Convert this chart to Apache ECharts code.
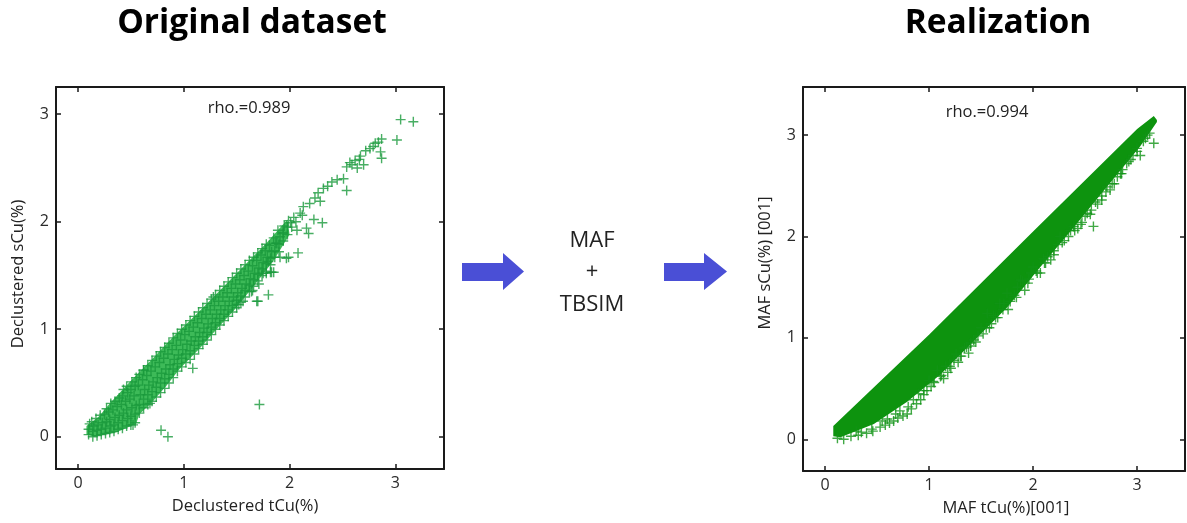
<!DOCTYPE html>
<html>
<head>
<meta charset="utf-8">
<script src="https://cdn.jsdelivr.net/npm/echarts@6/dist/echarts.min.js"></script>
<style>
html,body{margin:0;padding:0;background:#fff;}
#chart{width:1187px;height:523px;}
</style>
</head>
<body>
<div id="chart"></div>
<script>
// ---------- data ----------
const tickValues = [0, 1, 2, 3];
const tickLabels = ['0', '1', '2', '3'];

const leftTitle = 'Original dataset';
const rightTitle = 'Realization';
const leftRho = 'rho.=0.989';
const rightRho = 'rho.=0.994';
const leftXName = 'Declustered tCu(%)';
const leftYName = 'Declustered sCu(%)';
const rightXName = 'MAF tCu(%)[001]';
const rightYName = 'MAF sCu(%) [001]';
const middleLines = ['MAF', '+', 'TBSIM'];

// Original dataset: outline of the dense cloud (tCu, sCu)
const leftBandOutline = [
  [0.08,0.10],[0.20,0.19],[0.30,0.31],[0.50,0.52],[0.70,0.72],[0.90,0.93],[1.15,1.17],
  [1.47,1.49],[1.78,1.80],[1.98,2.02],
  [2.00,1.88],[1.85,1.64],[1.66,1.40],[1.47,1.17],[1.31,1.00],[1.15,0.82],[0.96,0.63],
  [0.84,0.48],[0.70,0.32],[0.58,0.21],[0.55,0.12],[0.36,0.04],[0.15,0.00],[0.08,0.02]
];

// Original dataset: declustered samples (tCu, sCu)
const leftSamples = [
  [0.10,0.02],[0.10,0.07],[0.11,0.12],
  [0.14,0.00],[0.14,0.05],[0.15,0.10],[0.13,0.14],
  [0.18,0.01],[0.18,0.06],[0.19,0.11],[0.17,0.17],
  [0.22,0.02],[0.22,0.07],[0.23,0.13],[0.21,0.20],
  [0.26,0.03],[0.26,0.08],[0.27,0.14],[0.25,0.21],[0.27,0.26],
  [0.30,0.04],[0.31,0.10],[0.30,0.16],[0.29,0.23],[0.31,0.31],
  [0.34,0.05],[0.34,0.11],[0.35,0.18],[0.33,0.25],[0.35,0.33],
  [0.38,0.07],[0.38,0.13],[0.39,0.20],[0.37,0.28],[0.39,0.36],
  [0.42,0.08],[0.42,0.15],[0.43,0.22],[0.41,0.30],[0.42,0.38],[0.43,0.44],
  [0.46,0.10],[0.47,0.17],[0.46,0.25],[0.45,0.33],[0.47,0.41],[0.46,0.47],
  [0.50,0.11],[0.50,0.19],[0.51,0.27],[0.49,0.35],[0.50,0.44],[0.51,0.51],
  [0.54,0.13],[0.54,0.21],[0.55,0.29],[0.53,0.38],[0.54,0.47],[0.55,0.55],
  [0.58,0.22],[0.58,0.30],[0.59,0.39],[0.57,0.48],[0.58,0.58],
  [0.62,0.27],[0.62,0.35],[0.63,0.44],[0.61,0.53],[0.62,0.62],
  [0.66,0.30],[0.66,0.39],[0.67,0.48],[0.65,0.57],[0.66,0.66],
  [0.70,0.33],[0.70,0.42],[0.71,0.51],[0.69,0.61],[0.70,0.71],
  [0.74,0.37],[0.74,0.46],[0.75,0.55],[0.73,0.65],[0.74,0.75],
  [0.78,0.41],[0.78,0.50],[0.79,0.59],[0.77,0.69],[0.78,0.79],
  [0.82,0.45],[0.82,0.54],[0.83,0.63],[0.81,0.73],[0.82,0.83],
  [0.86,0.50],[0.86,0.58],[0.87,0.67],[0.85,0.77],[0.86,0.87],
  [0.90,0.55],[0.90,0.63],[0.91,0.72],[0.89,0.81],[0.90,0.92],
  [0.94,0.61],[0.94,0.68],[0.95,0.76],[0.93,0.85],[0.94,0.96],
  [0.98,0.65],[0.98,0.73],[0.99,0.81],[0.97,0.90],[0.98,1.00],
  [1.02,0.69],[1.02,0.77],[1.03,0.86],[1.01,0.95],[1.02,1.04],
  [1.06,0.72],[1.06,0.80],[1.07,0.89],[1.05,0.98],[1.06,1.08],
  [1.10,0.77],[1.10,0.85],[1.11,0.93],[1.09,1.02],[1.10,1.12],
  [1.14,0.82],[1.14,0.89],[1.15,0.97],[1.13,1.06],[1.14,1.16],
  [1.18,0.86],[1.18,0.93],[1.19,1.01],[1.17,1.10],[1.18,1.20],
  [1.22,0.90],[1.22,0.97],[1.23,1.05],[1.21,1.14],[1.22,1.24],
  [1.26,0.95],[1.26,1.02],[1.27,1.10],[1.25,1.18],[1.26,1.28],
  [1.30,1.00],[1.30,1.06],[1.31,1.14],[1.29,1.22],[1.30,1.32],
  [1.34,1.04],[1.34,1.10],[1.35,1.18],[1.33,1.26],[1.34,1.36],
  [1.38,1.08],[1.38,1.14],[1.39,1.22],[1.37,1.30],[1.38,1.40],
  [1.42,1.12],[1.42,1.18],[1.43,1.26],[1.41,1.34],[1.42,1.44],
  [1.46,1.16],[1.46,1.22],[1.47,1.30],[1.45,1.38],[1.46,1.48],
  [1.50,1.20],[1.50,1.27],[1.51,1.34],[1.49,1.42],[1.50,1.52],
  [1.54,1.25],[1.54,1.31],[1.55,1.38],[1.53,1.46],[1.54,1.56],
  [1.58,1.30],[1.58,1.36],[1.59,1.42],[1.57,1.50],[1.58,1.60],
  [1.62,1.35],[1.62,1.41],[1.63,1.47],[1.61,1.54],[1.62,1.64],
  [1.66,1.40],[1.66,1.46],[1.67,1.52],[1.65,1.59],[1.66,1.67],
  [1.70,1.45],[1.70,1.51],[1.71,1.57],[1.69,1.64],[1.70,1.71],
  [1.74,1.50],[1.74,1.56],[1.75,1.62],[1.73,1.69],[1.74,1.75],
  [1.78,1.54],[1.78,1.61],[1.79,1.67],[1.77,1.73],[1.78,1.79],
  [1.82,1.60],[1.82,1.66],[1.83,1.72],[1.81,1.78],
  [1.86,1.67],[1.86,1.73],[1.87,1.80],[1.85,1.85],
  [1.90,1.72],[1.90,1.79],[1.91,1.86],[1.89,1.92],
  [1.94,1.82],[1.94,1.90],[1.95,1.96],
  [1.98,1.88],[1.98,1.95],[1.99,2.01],
  // sparse upper part
  [3.05,2.95],[3.17,2.93],[3.015,2.76],[2.87,2.77],[2.81,2.73],[2.76,2.68],[2.86,2.65],
  [2.87,2.59],[2.67,2.61],[2.62,2.57],[2.70,2.53],[2.59,2.53],[2.64,2.50],[2.54,2.51],
  [2.51,2.40],[2.45,2.39],[2.40,2.37],[2.54,2.29],[2.32,2.31],[2.24,2.22],[2.19,2.17],
  [2.13,2.14],[2.29,2.19],[2.10,2.08],[2.23,2.02],[2.31,1.99],[2.01,1.99],[2.16,1.94],
  [2.18,1.89],[2.07,1.92],[1.94,1.89],[1.88,1.80],[2.08,1.71],[1.97,1.66],[1.91,1.67],
  [1.82,1.53],[1.75,1.52],[1.80,1.63],[2.04,2.04],[2.12,2.06],[2.02,1.95],[2.06,2.00],
  [2.36,2.33],[2.27,2.27],[2.57,2.55],[2.66,2.58],[2.72,2.66],[2.79,2.70],[2.84,2.74],
  // scattered below the band and outliers
  [1.80,1.32],[1.69,1.26],[1.56,1.26],[1.52,1.23],[1.64,1.35],[1.71,1.42],[1.83,1.53],
  [1.70,1.26],[1.65,1.36],[1.99,1.67],[1.85,1.53],[1.78,1.52],[1.50,1.23],
  [1.28,1.30],[0.62,0.62],[0.68,0.31],[0.52,0.11],
  [1.085,0.636],[1.715,0.30],[0.785,0.06],[0.85,0.00]
];

// Realization: outline of the solid simulated cloud (tCu, sCu)
const rightBandOutline = [
  [0.08,0.13],[1.00,1.03],[2.00,2.05],[3.00,3.06],[3.16,3.19],[3.19,3.15],
  [3.19,3.13],[3.03,2.89],[2.71,2.49],[2.39,2.09],[2.07,1.70],[1.75,1.30],
  [1.43,0.97],[1.11,0.64],[0.79,0.37],[0.47,0.15],[0.15,0.02],[0.08,0.03]
];

// Realization: simulated values along the lower fringe (tCu, sCu)
const rightSamples = [
  [0.12,0.01],[0.18,0.00],[0.25,0.03],[0.32,0.04],[0.40,0.06],[0.46,0.08],[0.53,0.12],
  [0.58,0.14],[0.62,0.16],[0.66,0.18],[0.70,0.21],[0.75,0.23],[0.79,0.25],[0.83,0.30],
  [0.85,0.39],[0.88,0.35],[0.92,0.39],[0.95,0.44],[0.98,0.48],[1.02,0.52],[1.05,0.56],
  [1.08,0.68],[1.11,0.62],[1.14,0.60],[1.18,0.66],[1.21,0.70],[1.24,0.78],[1.28,0.76],
  [1.31,0.82],[1.36,0.91],[1.38,0.85],[1.40,0.95],[1.43,0.98],[1.47,1.02],[1.52,1.04],
  [1.55,1.10],[1.56,1.24],[1.60,1.14],[1.64,1.20],[1.68,1.34],[1.71,1.28],[1.75,1.44],
  [1.78,1.36],[1.82,1.42],[1.85,1.50],[1.88,1.57],[1.92,1.47],[1.96,1.58],[2.00,1.70],
  [2.03,1.66],[2.07,1.64],[2.11,1.74],[2.14,1.80],[2.17,1.77],[2.20,1.86],[2.26,2.00],
  [2.30,1.96],[2.34,2.00],[2.39,2.10],[2.43,2.08],[2.47,2.14],[2.52,2.23],[2.55,2.22],
  [2.58,2.10],[2.62,2.32],[2.66,2.36],[2.71,2.49],[2.74,2.46],[2.78,2.52],[2.81,2.59],
  [2.85,2.62],[2.90,2.72],[2.94,2.76],[2.998,2.87],[3.03,2.80],[3.08,2.97],[3.16,2.92],
  [0.30,0.08],[0.55,0.18],[0.72,0.28],[0.90,0.45],[1.00,0.58],[1.16,0.72],[1.26,0.84],
  [1.34,0.90],[1.50,1.10],[1.62,1.22],[1.72,1.34],[1.90,1.56],[1.98,1.64],[2.10,1.78],
  [2.24,1.92],[2.36,2.06],[2.50,2.20],[2.60,2.34],[2.70,2.44],[2.86,2.66],[2.96,2.80],
  [3.06,2.94],[3.12,3.02],
  [0.35,0.07],[0.45,0.10],[0.60,0.20],[0.68,0.25],[0.80,0.32],[0.95,0.48],[1.04,0.57],
  [1.12,0.63],[1.20,0.72],[1.30,0.82],[1.40,0.92],[1.45,0.96],[1.58,1.10],[1.66,1.20],
  [1.76,1.28],[1.84,1.40],[1.95,1.54],[2.04,1.64],[2.12,1.74],[2.20,1.82],[2.28,1.94],
  [2.40,2.06],[2.46,2.12],[2.56,2.26],[2.66,2.40],[2.76,2.52],[2.84,2.62],[2.92,2.74],
  [3.00,2.84],[3.10,3.00]
];

// ---------- chart ----------
const FONT = '"Open Sans", "Noto Sans", sans-serif';
const PLUS = 'path://M8.6,0H11.4V8.6H20V11.4H11.4V20H8.6V11.4H0V8.6H8.6Z';
const AXIS_COLOR = '#1a1a1a';
const LABEL_STYLE = { fontSize: 16, color: '#2a2a2a', fontFamily: FONT };

function xAxes(gridIndex, min, max) {
  const base = {
    gridIndex, type: 'value', min, max,
    splitLine: { show: false },
    axisLine: { show: true, onZero: false, lineStyle: { color: AXIS_COLOR, width: 2 } },
    axisTick: { show: true, inside: true, length: 5, customValues: tickValues, lineStyle: { color: AXIS_COLOR, width: 1.5 } }
  };
  return [
    Object.assign({}, base, {
      position: 'bottom',
      axisLabel: Object.assign({ customValues: tickValues, formatter: v => tickLabels[tickValues.indexOf(v)], margin: 6 }, LABEL_STYLE)
    }),
    Object.assign({}, base, { position: 'top', axisLabel: { show: false } })
  ];
}
function yAxes(gridIndex, min, max) {
  const base = {
    gridIndex, type: 'value', min, max,
    splitLine: { show: false },
    axisLine: { show: true, onZero: false, lineStyle: { color: AXIS_COLOR, width: 2 } },
    axisTick: { show: true, inside: true, length: 5, customValues: tickValues, lineStyle: { color: AXIS_COLOR, width: 1.5 } }
  };
  return [
    Object.assign({}, base, {
      position: 'left',
      axisLabel: Object.assign({ customValues: tickValues, formatter: v => tickLabels[tickValues.indexOf(v)], margin: 7 }, LABEL_STYLE)
    }),
    Object.assign({}, base, { position: 'right', axisLabel: { show: false } })
  ];
}

function bandSeries(outline, xi, yi, color) {
  return {
    type: 'custom', xAxisIndex: xi, yAxisIndex: yi, silent: true, clip: true, z: 1,
    data: outline,
    renderItem: function (params, api) {
      if (params.dataIndex !== 0) return null;
      return {
        type: 'polygon',
        shape: { points: outline.map(p => api.coord(p)) },
        style: { fill: color }
      };
    }
  };
}

const chart = echarts.init(document.getElementById('chart'));

const arrow = (x0, x1, x2) => ({
  type: 'polygon',
  shape: { points: [[x0, 263], [x1, 263], [x1, 253], [x2, 271.5], [x1, 290], [x1, 281], [x0, 281]] },
  style: { fill: '#4a4fd6' }
});
const txt = (text, x, y, size, opts) => Object.assign({
  type: 'text', x, y,
  style: Object.assign({ text, fontSize: size, fontFamily: FONT, fill: '#222', align: 'center', verticalAlign: 'middle' }, opts || {})
});

chart.setOption({
  animation: false,
  backgroundColor: '#fff',
  grid: [
    { left: 56, top: 87, width: 388, height: 382 },
    { left: 803, top: 87, width: 382, height: 384 }
  ],
  xAxis: xAxes(0, -0.208, 3.46).concat(xAxes(1, -0.211, 3.46)),
  yAxis: yAxes(0, -0.30, 3.253).concat(yAxes(1, -0.313, 3.475)),
  series: [
    bandSeries(leftBandOutline, 0, 0, '#3dba58'),
    {
      type: 'scatter', xAxisIndex: 0, yAxisIndex: 0, z: 2,
      symbol: PLUS, symbolSize: 10,
      itemStyle: { color: '#1a9a3c' },
      data: leftSamples
    },
    bandSeries(rightBandOutline, 2, 2, '#0d930e'),
    {
      type: 'scatter', xAxisIndex: 2, yAxisIndex: 2, z: 2,
      symbol: PLUS, symbolSize: 10,
      itemStyle: { color: '#129417' },
      data: rightSamples
    }
  ],
  graphic: [
    txt(leftTitle, 252, 23, 33.5, { fontWeight: 'bold', fill: '#000' }),
    txt(rightTitle, 998, 23, 33.5, { fontWeight: 'bold', fill: '#000' }),
    txt(leftRho, 249, 108, 16.5),
    txt(rightRho, 987, 112, 16.5),
    txt(leftXName, 245, 506, 16.5),
    Object.assign(txt(leftYName, 18, 274, 16.5), { rotation: Math.PI / 2 }),
    txt(rightXName, 1006, 508, 16.5),
    Object.assign(txt(rightYName, 765, 263, 16.5), { rotation: Math.PI / 2 }),
    txt(middleLines[0], 592, 241, 22),
    txt(middleLines[1], 592, 272, 22),
    txt(middleLines[2], 592, 305, 22),
    arrow(462, 503, 524),
    arrow(664, 704, 727)
  ]
});
</script>
</body>
</html>
